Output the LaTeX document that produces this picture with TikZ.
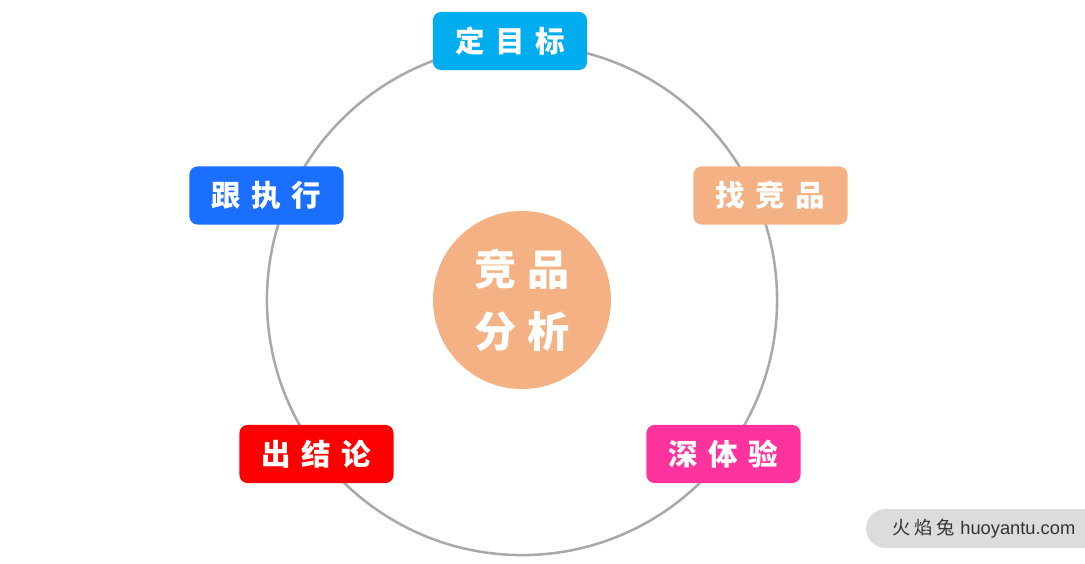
\documentclass[tikz,border=0pt]{standalone}
\usepackage{fontspec}
\newfontfamily\cjk{Noto Sans CJK SC}
\setsansfont{Liberation Sans}
\definecolor{ringgray}{HTML}{A9A9A9}
\definecolor{goalcyan}{HTML}{00AEEF}
\definecolor{execblue}{HTML}{1A6FFF}
\definecolor{peach}{HTML}{F4B183}
\definecolor{endred}{HTML}{FF0000}
\definecolor{trypink}{HTML}{FF339E}
\definecolor{wmgray}{HTML}{DCDCDC}
\definecolor{wmtext}{HTML}{333333}
\begin{document}
\begin{tikzpicture}[x=0.025cm,y=-0.025cm]
	\tikzset{
		stagebox/.style={fill=#1, rounded corners=0.2cm, minimum width=3.85cm, minimum height=1.45cm,
			text=white, font=\cjk\bfseries\fontsize{21}{21}\selectfont},
	}
	\useasboundingbox (0,0) rectangle (1085,564);
	
	% ring
	\draw[ringgray, line width=1.8pt] (522,300) circle[radius=6.375cm];
	
	% centre
	\node[circle, fill=peach, minimum size=4.45cm, text=white, align=center,
		font=\cjk\bfseries\fontsize{30}{44}\selectfont] (core) at (522,300) {竞\hspace{0.25em}品\\分\hspace{0.25em}析};
	
	% stages
	\node[stagebox=goalcyan] (goal) at (510,41) {定\hspace{0.35em}目\hspace{0.35em}标};
	\node[stagebox=peach] (rival) at (770.5,195.5) {找\hspace{0.35em}竞\hspace{0.35em}品};
	\node[stagebox=trypink] (try) at (723.5,454) {深\hspace{0.35em}体\hspace{0.35em}验};
	\node[stagebox=endred] (verdict) at (316.5,454) {出\hspace{0.35em}结\hspace{0.35em}论};
	\node[stagebox=execblue] (follow) at (266.5,195.5) {跟\hspace{0.35em}执\hspace{0.35em}行};
	
	% watermark
	\fill[wmgray, rounded corners=0.49cm] (866,509) rectangle (1110,548);
	\node[text=wmtext, font=\fontsize{13}{13}\selectfont] (mark) at (984,529)
		{{\cjk 火\hspace{0.2em}焰\hspace{0.2em}兔}\hspace{0.3em}\sffamily huoyantu.com};
	
\end{tikzpicture}
\end{document}
